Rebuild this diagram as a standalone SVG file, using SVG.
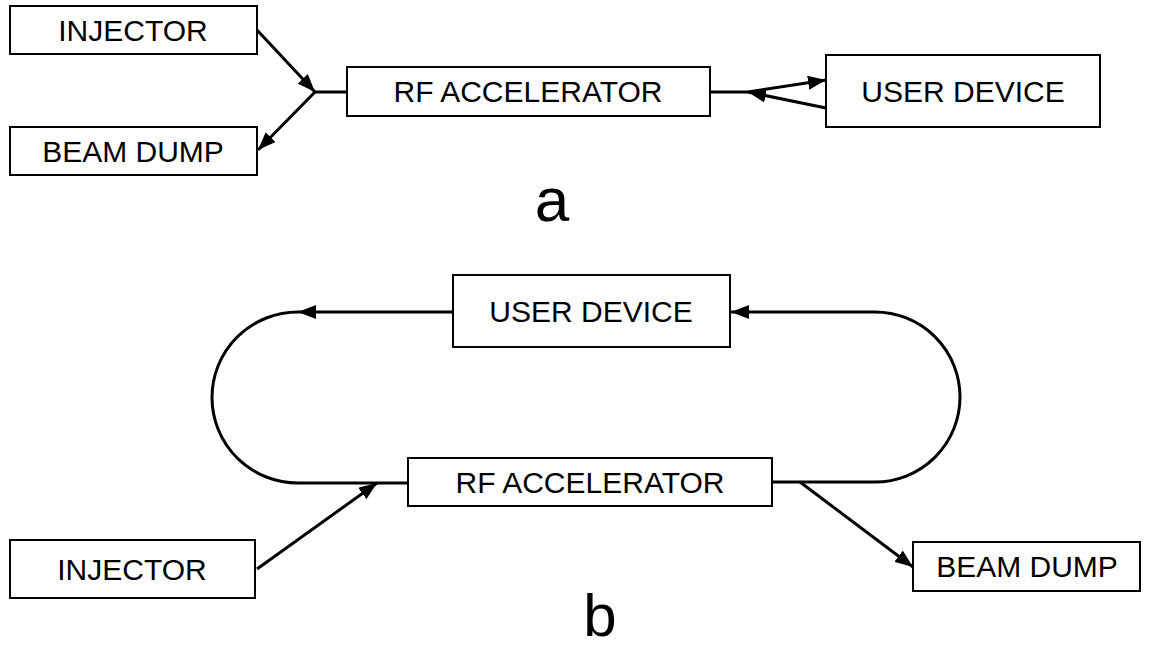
<svg xmlns="http://www.w3.org/2000/svg" width="1156" height="649" viewBox="0 0 1156 649">
<defs>
<marker id="ah" markerUnits="userSpaceOnUse" markerWidth="20" markerHeight="14" refX="18" refY="7" orient="auto">
<path d="M0,0 L18,7 L0,14 Z" fill="#000"/>
</marker>
<style>
.box{fill:#fff;stroke:#000;stroke-width:2}
.t{font-family:"Liberation Sans",Arial,sans-serif;font-size:30px;fill:#000;text-anchor:middle}
.lbl{font-family:"Liberation Sans",Arial,sans-serif;font-size:62px;fill:#000;text-anchor:middle}
.c{fill:none;stroke:#000;stroke-width:3}
.a{fill:none;stroke:#000;stroke-width:3;marker-end:url(#ah)}
</style>
</defs>
<rect width="1156" height="649" fill="#fff"/>
<g id="connectors">
<line class="a" x1="257" y1="30" x2="315" y2="92"/>
<line class="a" x1="315" y1="92" x2="258" y2="150"/>
<line class="c" x1="315" y1="92" x2="347" y2="92"/>
<line class="c" x1="710" y1="92" x2="748" y2="92"/>
<line class="a" x1="748" y1="92" x2="826" y2="80"/>
<line class="a" x1="826" y1="108" x2="748" y2="92"/>
<path class="a" d="M453,312 L298,312"/>
<path class="c" d="M298,312 A86,85.5 0 0 0 298,483 L408,483"/>
<line class="a" x1="257" y1="569" x2="377" y2="483"/>
<path class="a" d="M772,482 L875,482 A85,85 0 0 0 875,312 L731,312"/>
<line class="a" x1="800" y1="482" x2="913" y2="567"/>
</g>
<g id="injector-a"><rect class="box" x="10" y="6" width="247" height="48"/><text class="t" x="133" y="41">INJECTOR</text></g>
<g id="beamdump-a"><rect class="box" x="10" y="127" width="247" height="48"/><text class="t" x="133" y="162">BEAM DUMP</text></g>
<g id="rf-a"><rect class="box" x="347" y="67" width="363" height="49"/><text class="t" x="528" y="102">RF ACCELERATOR</text></g>
<g id="user-a"><rect class="box" x="826" y="55" width="274" height="72"/><text class="t" x="963" y="102">USER DEVICE</text></g>
<g id="label-a"><text class="lbl" x="552" y="221">a</text></g>
<g id="user-b"><rect class="box" x="453" y="275" width="277" height="72"/><text class="t" x="591" y="322">USER DEVICE</text></g>
<g id="rf-b"><rect class="box" x="408" y="458" width="364" height="48"/><text class="t" x="590" y="493">RF ACCELERATOR</text></g>
<g id="injector-b"><rect class="box" x="10" y="540" width="245" height="58"/><text class="t" x="132" y="580">INJECTOR</text></g>
<g id="beamdump-b"><rect class="box" x="913" y="542" width="227" height="49"/><text class="t" x="1027" y="577">BEAM DUMP</text></g>
<g id="label-b"><text class="lbl" x="600" y="636" style="font-size:60px">b</text></g>
</svg>
